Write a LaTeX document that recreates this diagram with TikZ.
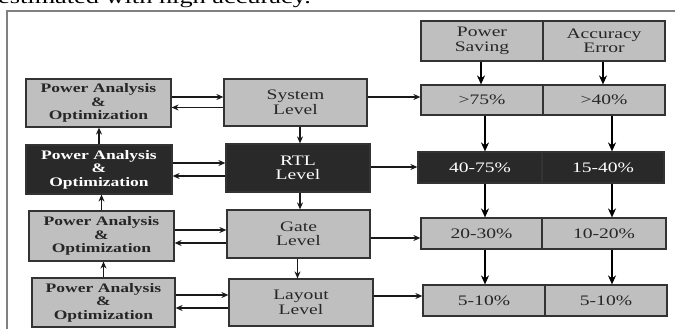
\documentclass[tikz,border=0pt]{standalone}
\usepackage{fontspec}
\setmainfont{Liberation Serif}
\newfontfamily\wideserif[FakeStretch=1.35]{Liberation Serif}
\usetikzlibrary{arrows.meta}

\begin{document}
\begin{tikzpicture}[x=1pt,y=-1pt,
  box/.style={draw=black!80, line width=1.2pt, rectangle, inner sep=0pt,
    align=center, font=\wideserif\fontsize{14.5}{14.5}\selectfont, text=black!85},
  lite/.style={box, fill=black!25},
  dark/.style={box, fill=black!84, text=white},
  pa/.style={font=\wideserif\bfseries\fontsize{13}{13.5}\selectfont},
  link/.style={line width=1.4pt, draw=black!90, -{Stealth[length=7pt,width=6pt]}},
  flow/.style={line width=2.4pt, draw=black, -{Stealth[length=9pt,width=8pt]}},
  frameline/.style={draw=black!50, line width=1.5pt}
]
\useasboundingbox (0,0) rectangle (675,329);

% running text above the frame
\begin{scope}
  \clip (0,0) rectangle (675,329);
  \node[anchor=base east, inner sep=0pt,
        font=\wideserif\fontsize{19.5}{20}\selectfont] (caption) at (311,4)
        {estimated with high accuracy.};
\end{scope}

% frame
\coordinate (fl) at (7,329);
\coordinate (fc) at (7,11);
\coordinate (fr) at (675,11);
\draw[frameline] (fl) -- (fc) -- (fr);

% analysis boxes
\node[lite, pa, minimum width=145pt, minimum height=48pt] (L1) at (98.5,103)
  {Power Analysis\\\&\\Optimization};
\node[dark, pa, minimum width=146pt, minimum height=49pt] (L2) at (99,169.5)
  {Power Analysis\\\&\\Optimization};
\node[lite, pa, minimum width=145pt, minimum height=50pt] (L3) at (101.5,236)
  {Power Analysis\\\&\\Optimization};
\node[lite, pa, minimum width=143pt, minimum height=49pt] (L4) at (103.5,302.5)
  {Power Analysis\\\&\\Optimization};

% abstraction levels
\node[lite, minimum width=143pt, minimum height=47pt] (M1) at (295.5,102.5) {System\\Level};
\node[dark, minimum width=144pt, minimum height=48pt] (M2) at (298,168) {RTL\\Level};
\node[lite, minimum width=143pt, minimum height=48pt] (M3) at (298.5,234) {Gate\\Level};
\node[lite, minimum width=144pt, minimum height=47pt] (M4) at (301,302.5) {Layout\\Level};

% table of savings and errors
\node[lite, minimum width=122pt, minimum height=40pt] (Ha) at (482,41) {Power\\Saving};
\node[lite, minimum width=122pt, minimum height=40pt] (Hb) at (604,41) {Accuracy\\Error};
\node[lite, minimum width=122pt, minimum height=30pt] (R1a) at (482,100) {>75\%};
\node[lite, minimum width=122pt, minimum height=30pt] (R1b) at (604,100) {>40\%};
\node[dark, minimum width=124pt, minimum height=31pt] (R2a) at (480,167.5) {40-75\%};
\node[dark, minimum width=122pt, minimum height=31pt] (R2b) at (603,167.5) {15-40\%};
\node[lite, minimum width=121pt, minimum height=31pt] (R3a) at (481.5,233.5) {20-30\%};
\node[lite, minimum width=124pt, minimum height=31pt] (R3b) at (604,233.5) {10-20\%};
\node[lite, minimum width=122pt, minimum height=31pt] (R4a) at (484,300.5) {5-10\%};
\node[lite, minimum width=122pt, minimum height=31pt] (R4b) at (606,300.5) {5-10\%};

% analysis <-> level
\draw[link] ([yshift=6pt]L1.east) -- ([yshift=6pt]L1.east -| M1.west);
\draw[link] ([yshift=-5pt]M1.west) -- ([yshift=-5pt]M1.west -| L1.east);
\draw[link] ([yshift=6.5pt]L2.east) -- ([yshift=6.5pt]L2.east -| M2.west);
\draw[link] ([yshift=-8pt]M2.west) -- ([yshift=-8pt]M2.west -| L2.east);
\draw[link] ([yshift=6pt]L3.east) -- ([yshift=6pt]L3.east -| M3.west);
\draw[link] ([yshift=-9pt]M3.west) -- ([yshift=-9pt]M3.west -| L3.east);
\draw[link] ([yshift=7.5pt]L4.east) -- ([yshift=7.5pt]L4.east -| M4.west);
\draw[link] ([yshift=-5.5pt]M4.west) -- ([yshift=-5.5pt]M4.west -| L4.east);

% analysis chain upwards
\draw[link] (L2.north) -- (L2.north |- L1.south);
\draw[link] (L3.north) -- (L3.north |- L2.south);
\draw[link] (L4.north) -- (L4.north |- L3.south);

% level chain downwards
\draw[link] ([xshift=4.5pt]M1.south) -- ([xshift=4.5pt]M1.south |- M2.north);
\draw[link] ([xshift=2pt]M2.south) -- ([xshift=2pt]M2.south |- M3.north);
\draw[link] ([xshift=-1pt]M3.south) -- ([xshift=-1pt]M3.south |- M4.north);

% level -> table rows
\draw[link] ([yshift=5.5pt]M1.east) -- ([yshift=5.5pt]M1.east -| R1a.west);
\draw[link] ([yshift=1pt]M2.east) -- ([yshift=1pt]M2.east -| R2a.west);
\draw[link] ([yshift=-4pt]M3.east) -- ([yshift=-4pt]M3.east -| R3a.west);
\draw[link] ([yshift=6.5pt]M4.east) -- ([yshift=6.5pt]M4.east -| R4a.west);

% table columns downwards
\draw[flow] ([xshift=-1pt]Ha.south) -- ([xshift=-1pt]Ha.south |- R1a.north);
\draw[flow] ([xshift=-1pt]Hb.south) -- ([xshift=-1pt]Hb.south |- R1b.north);
\draw[flow] ([xshift=3pt]R1a.south) -- ([xshift=3pt]R1a.south |- R2a.north);
\draw[flow] ([xshift=8pt]R1b.south) -- ([xshift=8pt]R1b.south |- R2b.north);
\draw[flow] ([xshift=5pt]R2a.south) -- ([xshift=5pt]R2a.south |- R3a.north);
\draw[flow] ([xshift=9pt]R2b.south) -- ([xshift=9pt]R2b.south |- R3b.north);
\draw[flow] ([xshift=3.5pt]R3a.south) -- ([xshift=3.5pt]R3a.south |- R4a.north);
\draw[flow] ([xshift=8pt]R3b.south) -- ([xshift=8pt]R3b.south |- R4b.north);
\end{tikzpicture}
\end{document}
